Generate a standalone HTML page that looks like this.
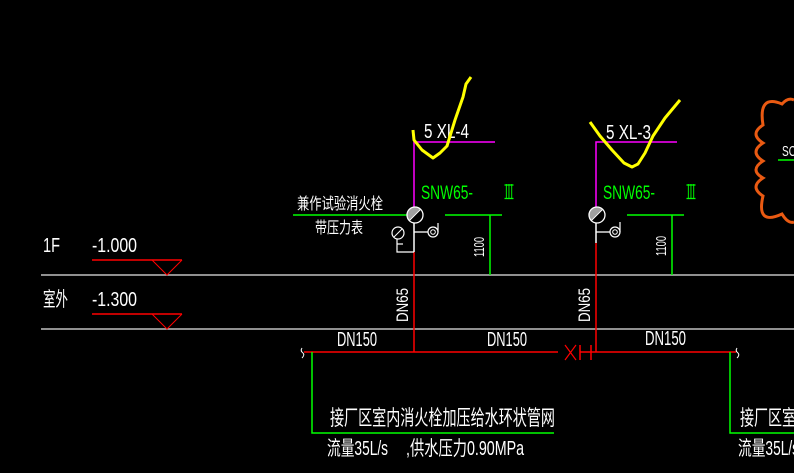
<!DOCTYPE html>
<html><head><meta charset="utf-8"><style>
html,body{margin:0;padding:0;background:#000;width:794px;height:473px;overflow:hidden}
svg{display:block}
text{font-family:"Liberation Sans","Noto Sans CJK SC",sans-serif;fill:#fff}
.r3{font-family:"Liberation Sans","DejaVu Sans",sans-serif;fill:#0f0}
</style></head><body>
<svg width="794" height="473" viewBox="0 0 794 473" xmlns="http://www.w3.org/2000/svg">
<rect width="794" height="473" fill="#000"/>
<!-- floor lines -->
<line x1="41" y1="275" x2="794" y2="275" stroke="#c0c0c0" stroke-width="1.5"/>
<line x1="41" y1="329" x2="794" y2="329" stroke="#c0c0c0" stroke-width="1.5"/>
<!-- elevation marks -->
<text x="43" y="252" font-size="20" textLength="17" lengthAdjust="spacingAndGlyphs">1F</text>
<text x="92" y="252" font-size="20" textLength="45" lengthAdjust="spacingAndGlyphs">-1.000</text>
<line x1="92" y1="260" x2="182" y2="260" stroke="#f00" stroke-width="1.5"/>
<polyline points="152,260 167,275 182,260" fill="none" stroke="#f00" stroke-width="1"/>
<text x="43" y="306" font-size="20" textLength="25" lengthAdjust="spacingAndGlyphs">室外</text>
<text x="92" y="306" font-size="20" textLength="45" lengthAdjust="spacingAndGlyphs">-1.300</text>
<line x1="92" y1="314" x2="182" y2="314" stroke="#f00" stroke-width="1.5"/>
<polyline points="152,314 167,329 182,314" fill="none" stroke="#f00" stroke-width="1"/>

<!-- main pipe -->
<line x1="304" y1="352" x2="558" y2="352" stroke="#f00" stroke-width="1.5"/>
<line x1="565" y1="345" x2="576" y2="360" stroke="#f00" stroke-width="1.2"/>
<line x1="576" y1="345" x2="565" y2="360" stroke="#f00" stroke-width="1.2"/>
<line x1="580" y1="345" x2="580" y2="360" stroke="#f00" stroke-width="1.5"/>
<line x1="591" y1="345" x2="591" y2="360" stroke="#f00" stroke-width="1.5"/>
<line x1="580" y1="352" x2="736" y2="352" stroke="#f00" stroke-width="1.5"/>
<path d="M302,348 Q300,351 303,353 Q305,355 302,358" fill="none" stroke="#fff" stroke-width="1"/>
<path d="M737,348 Q735,351 738,353 Q740,355 737,358" fill="none" stroke="#fff" stroke-width="1"/>
<text x="337" y="346" font-size="20" textLength="40" lengthAdjust="spacingAndGlyphs">DN150</text>
<text x="487" y="346" font-size="20" textLength="40" lengthAdjust="spacingAndGlyphs">DN150</text>
<text x="645" y="345" font-size="20" textLength="41" lengthAdjust="spacingAndGlyphs">DN150</text>

<!-- green leader lines bottom -->
<polyline points="312,352 312,433 554,433" fill="none" stroke="#0f0" stroke-width="1.5"/>
<polyline points="730,352 730,433 794,433" fill="none" stroke="#0f0" stroke-width="1.5"/>
<text x="330" y="425" font-size="21" textLength="225" lengthAdjust="spacingAndGlyphs">接厂区室内消火栓加压给水环状管网</text>
<text x="327" y="455" font-size="20" textLength="61" lengthAdjust="spacingAndGlyphs">流量35L/s</text>
<text x="406" y="455" font-size="20" textLength="118" lengthAdjust="spacingAndGlyphs">,供水压力0.90MPa</text>
<text x="740" y="425" font-size="21" textLength="56" lengthAdjust="spacingAndGlyphs">接厂区室</text>
<text x="738" y="455" font-size="20" textLength="61" lengthAdjust="spacingAndGlyphs">流量35L/s</text>

<!-- riser 1 -->
<line x1="414" y1="252" x2="414" y2="352" stroke="#f00" stroke-width="1.5"/>
<line x1="414" y1="223" x2="414" y2="252" stroke="#fff" stroke-width="1.5"/>
<polyline points="495,142 414,142 414,212" fill="none" stroke="#f0f" stroke-width="1.5"/>
<text x="424" y="138" font-size="20" textLength="45" lengthAdjust="spacingAndGlyphs">5 XL-4</text>
<polyline points="413,130 414,140 422,150 433,158 440,153 447,146 455,120 463,97 466,84 471,77" fill="none" stroke="#ff0" stroke-width="3" stroke-linejoin="round"/>
<text x="421" y="199" font-size="19" style="fill:#0f0" textLength="52" lengthAdjust="spacingAndGlyphs">SNW65-</text>
<text class="r3" transform="translate(505,198) scale(1,1.45)" font-size="14" textLength="8" lengthAdjust="spacingAndGlyphs">III</text>
<line x1="504.5" y1="185" x2="513.5" y2="185" stroke="#0f0" stroke-width="1.3"/>
<line x1="504.5" y1="198.5" x2="513.5" y2="198.5" stroke="#0f0" stroke-width="1.3"/>
<line x1="293" y1="215" x2="407" y2="215" stroke="#0f0" stroke-width="1.5"/>
<line x1="445" y1="215" x2="502" y2="215" stroke="#0f0" stroke-width="1.5"/>
<line x1="490" y1="215" x2="490" y2="275" stroke="#0f0" stroke-width="1.5"/>
<text x="297" y="209" font-size="16" textLength="86" lengthAdjust="spacingAndGlyphs">兼作试验消火栓</text>
<text x="315" y="233" font-size="16" textLength="48" lengthAdjust="spacingAndGlyphs">带压力表</text>
<path d="M409.3,220.7 A8,8 0 0 1 420.7,209.3 Z" fill="#a0a0a0"/>
<circle cx="415" cy="215" r="8" fill="none" stroke="#fff" stroke-width="1.3"/>
<line x1="409.3" y1="220.7" x2="420.7" y2="209.3" stroke="#fff" stroke-width="1"/>
<line x1="414" y1="232" x2="428" y2="232" stroke="#fff" stroke-width="1.3"/>
<circle cx="433" cy="232" r="5" fill="none" stroke="#fff" stroke-width="1.2"/>
<circle cx="433" cy="232" r="2.3" fill="none" stroke="#fff" stroke-width="1"/>
<line x1="438" y1="223" x2="438" y2="232" stroke="#fff" stroke-width="1.2"/>
<circle cx="398" cy="233" r="6" fill="none" stroke="#fff" stroke-width="1.2"/>
<line x1="394" y1="237" x2="402" y2="229" stroke="#fff" stroke-width="1"/>
<polyline points="397,239 397,252 414,252" fill="none" stroke="#fff" stroke-width="1.2"/>
<line x1="397" y1="244" x2="403" y2="244" stroke="#fff" stroke-width="1.2"/>
<text transform="translate(408,322) rotate(-90)" font-size="17" textLength="34" lengthAdjust="spacingAndGlyphs">DN65</text>
<text transform="translate(484,257) rotate(-90)" font-size="15" textLength="20" lengthAdjust="spacingAndGlyphs">1100</text>

<!-- riser 2 -->
<line x1="596" y1="243" x2="596" y2="352" stroke="#f00" stroke-width="1.5"/>
<line x1="596" y1="223" x2="596" y2="243" stroke="#fff" stroke-width="1.5"/>
<polyline points="677,142 596,142 596,212" fill="none" stroke="#f0f" stroke-width="1.5"/>
<text x="606" y="139" font-size="20" textLength="45" lengthAdjust="spacingAndGlyphs">5 XL-3</text>
<polyline points="590,122 600,136 612,150 624,163 632,167 638,164 645,153 653,136 665,118 680,100" fill="none" stroke="#ff0" stroke-width="3" stroke-linejoin="round"/>
<text x="603" y="199" font-size="19" style="fill:#0f0" textLength="52" lengthAdjust="spacingAndGlyphs">SNW65-</text>
<text class="r3" transform="translate(687,198) scale(1,1.45)" font-size="14" textLength="8" lengthAdjust="spacingAndGlyphs">III</text>
<line x1="686.5" y1="185" x2="695.5" y2="185" stroke="#0f0" stroke-width="1.3"/>
<line x1="686.5" y1="198.5" x2="695.5" y2="198.5" stroke="#0f0" stroke-width="1.3"/>
<line x1="627" y1="215" x2="684" y2="215" stroke="#0f0" stroke-width="1.5"/>
<line x1="672" y1="215" x2="672" y2="275" stroke="#0f0" stroke-width="1.5"/>
<path d="M591.3,220.7 A8,8 0 0 1 602.7,209.3 Z" fill="#a0a0a0"/>
<circle cx="597" cy="215" r="8" fill="none" stroke="#fff" stroke-width="1.3"/>
<line x1="591.3" y1="220.7" x2="602.7" y2="209.3" stroke="#fff" stroke-width="1"/>
<line x1="596" y1="232" x2="610" y2="232" stroke="#fff" stroke-width="1.3"/>
<circle cx="615" cy="232" r="5" fill="none" stroke="#fff" stroke-width="1.2"/>
<circle cx="615" cy="232" r="2.3" fill="none" stroke="#fff" stroke-width="1"/>
<line x1="620" y1="222" x2="620" y2="232" stroke="#fff" stroke-width="1.2"/>
<text transform="translate(590,322) rotate(-90)" font-size="17" textLength="34" lengthAdjust="spacingAndGlyphs">DN65</text>
<text transform="translate(666,256) rotate(-90)" font-size="15" textLength="20" lengthAdjust="spacingAndGlyphs">1100</text>

<!-- revision cloud -->
<path d="M794,100 Q788,97 782,104 Q758,94 763,125 Q749,134 763,143 Q749,152 763,161 Q749,170 763,178 Q749,187 763,196 Q756,226 782,214 Q788,224 794,222" fill="none" stroke="#ea5a12" stroke-width="3"/>
<text x="782" y="156" font-size="15" textLength="14" lengthAdjust="spacingAndGlyphs">SC</text>
<line x1="778" y1="160" x2="794" y2="160" stroke="#0f0" stroke-width="1.5"/>
</svg>
</body></html>
